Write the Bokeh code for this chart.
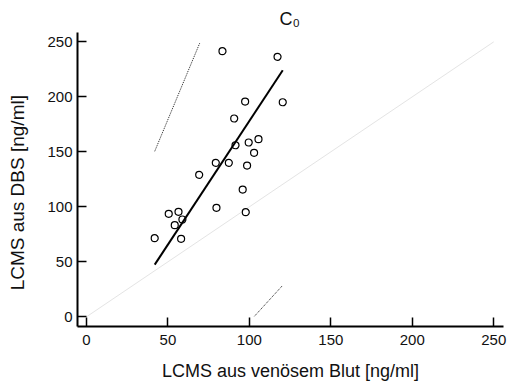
from bokeh.plotting import figure
from bokeh.models import Range1d, FixedTicker
from bokeh.embed import file_html
from bokeh.resources import INLINE

# --- data ---
venous = [41.9, 58.1, 50.5, 56.5, 58.9, 54.2, 69.2, 79.8, 79.4, 87.4, 91.5,
          99.6, 105.6, 102.9, 98.6, 95.9, 97.8, 83.5, 117.3, 97.4, 120.5, 90.7]
dbs = [71.5, 70.9, 93.6, 95.5, 88.5, 83.3, 129.1, 99.1, 140.0, 140.0, 156.0,
       158.5, 161.5, 149.1, 137.5, 115.7, 95.1, 241.5, 236.4, 195.7, 195.1, 180.3]

fit_x = [41.9, 120.5]
fit_y = [47.5, 224.2]
upper_x = [41.9, 69.6]
upper_y = [150.5, 249.1]
lower_x = [103.1, 120.5]
lower_y = [0.5, 28.7]
ident = [0, 250]
ticks = [0, 50, 100, 150, 200, 250]

title_text = "C\u2080"
x_label = "LCMS aus venösem Blut [ng/ml]"
y_label = "LCMS aus DBS [ng/ml]"

FONT = "Liberation Sans"

p = figure(width=510, height=385, output_backend="svg", toolbar_location=None,
           x_range=Range1d(-5.5, 256), y_range=Range1d(-8.8, 258.5),
           min_border_left=77, min_border_right=7, min_border_top=32,
           min_border_bottom=59)
p.outline_line_color = None
p.grid.visible = False
p.background_fill_color = "white"
p.border_fill_color = "white"

for ax in (p.xaxis[0], p.yaxis[0]):
    ax.ticker = FixedTicker(ticks=ticks)
    ax.minor_tick_line_color = None
    ax.major_tick_in = 9
    ax.major_tick_out = 0
    ax.major_tick_line_width = 1.5
    ax.major_tick_line_color = "black"
    ax.axis_line_width = 2
    ax.axis_line_color = "black"
    ax.major_label_text_font = FONT
    ax.major_label_text_font_size = "15px"
    ax.major_label_text_color = "#111111"
    ax.axis_label_text_font = FONT
    ax.axis_label_text_font_style = "normal"
    ax.axis_label_text_color = "#111111"
p.xaxis.major_label_standoff = 8
p.yaxis.major_label_standoff = 5
p.xaxis.axis_label = x_label
p.xaxis.axis_label_text_font_size = "18px"
p.xaxis.axis_label_standoff = 13
# trailing no-break spaces shift the rotated label's visible text downward
p.yaxis.axis_label = y_label + "\u00a0" * 5
p.yaxis.axis_label_text_font_size = "19px"
p.yaxis.axis_label_standoff = 16

# title C with subscript 0
p.title.text = title_text
p.title.text_font = FONT
p.title.text_font_size = "18px"
p.title.text_font_style = "normal"
p.title.text_color = "#111111"
p.title.align = "left"
p.title.offset = 202
p.title.standoff = 8

# identity line
p.line(ident, ident, line_color="#e4e4e4", line_width=1)
# dotted bounds
p.line(upper_x, upper_y, line_color="#222222", line_width=1, line_dash="1 1")
p.line(lower_x, lower_y, line_color="#222222", line_width=1, line_dash="1 1")
# regression line
p.line(fit_x, fit_y, line_color="black", line_width=2)
# points
p.scatter(venous, dbs, marker="circle", size=7, fill_color=None,
          line_color="black", line_width=1.2)

open("out.html", "w").write(file_html(p, INLINE))
